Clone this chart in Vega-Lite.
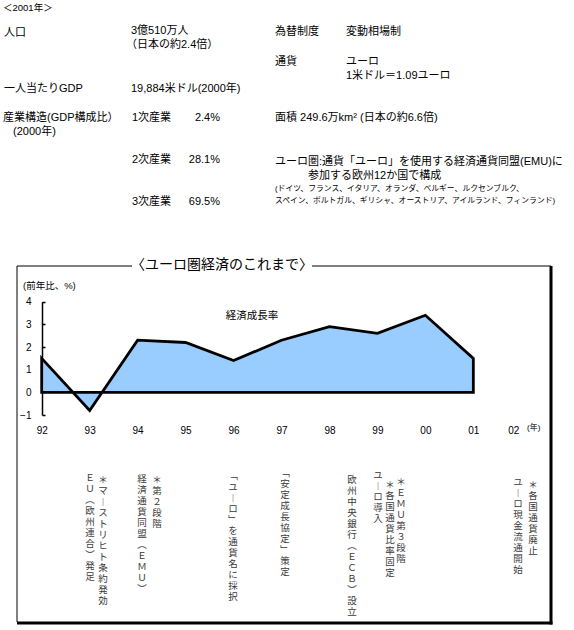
{
  "$schema": "https://vega.github.io/schema/vega-lite/v6.json",
  "width": 574,
  "height": 630,
  "padding": 0,
  "autosize": {"type": "none"},
  "background": "white",
  "config": {
    "view": {"stroke": null},
    "text": {"font": "Liberation Sans, Noto Sans CJK JP", "color": "black"},
    "axis": {"labelFont": "Liberation Sans, Noto Sans CJK JP"}
  },
  "resolve": {"scale": {"x": "independent", "y": "independent"}},
  "layer": [
    {
      "encoding": {
        "x": {"field": "x", "type": "quantitative", "scale": {"domain": [0, 574], "nice": false, "zero": false}, "axis": null},
        "y": {"field": "y", "type": "quantitative", "scale": {"domain": [0, 630], "nice": false, "zero": false, "reverse": true}, "axis": null}
      },
      "layer": [
        {
          "data": {"values": [
            {"x": 17, "y": 266, "x2": 17, "y2": 622},
            {"x": 17, "y": 266, "x2": 132, "y2": 266},
            {"x": 312, "y": 266, "x2": 551, "y2": 266}
          ]},
          "mark": {"type": "rule", "stroke": "black", "strokeWidth": 1},
          "encoding": {"x2": {"field": "x2"}, "y2": {"field": "y2"}}
        },
        {
          "data": {"values": [
            {"x": 551, "y": 266, "x2": 551, "y2": 624.5},
            {"x": 17, "y": 623, "x2": 552.5, "y2": 623}
          ]},
          "mark": {"type": "rule", "stroke": "black", "strokeWidth": 3},
          "encoding": {"x2": {"field": "x2"}, "y2": {"field": "y2"}}
        },
        {
          "data": {"values": [
            {"x": 4, "y": 33, "t": "人口"},
            {"x": 131, "y": 31, "t": "3億510万人"},
            {"x": 126, "y": 45, "t": "（日本の約2.4倍）"},
            {"x": 275, "y": 32, "t": "為替制度"},
            {"x": 346, "y": 32, "t": "変動相場制"},
            {"x": 275, "y": 62, "t": "通貨"},
            {"x": 346, "y": 62, "t": "ユーロ"},
            {"x": 346, "y": 76, "t": "1米ドル＝1.09ユーロ"},
            {"x": 4, "y": 89, "t": "一人当たりGDP"},
            {"x": 131, "y": 89, "t": "19,884米ドル(2000年)"},
            {"x": 3, "y": 118, "t": "産業構造(GDP構成比）"},
            {"x": 13, "y": 132, "t": "(2000年)"},
            {"x": 132, "y": 118, "t": "1次産業"},
            {"x": 132, "y": 160, "t": "2次産業"},
            {"x": 132, "y": 202, "t": "3次産業"},
            {"x": 275, "y": 118, "t": "面積 249.6万km² (日本の約6.6倍)"},
            {"x": 275, "y": 162, "t": "ユーロ圏:通貨「ユーロ」を使用する経済通貨同盟(EMU)に"},
            {"x": 308, "y": 176, "t": "参加する欧州12か国で構成"}
          ]},
          "mark": {"type": "text", "align": "left", "baseline": "middle", "fontSize": 11},
          "encoding": {"text": {"field": "t", "type": "nominal"}}
        },
        {
          "data": {"values": [
            {"x": 220, "y": 118, "t": "2.4%"},
            {"x": 220, "y": 160, "t": "28.1%"},
            {"x": 220, "y": 202, "t": "69.5%"}
          ]},
          "mark": {"type": "text", "align": "right", "baseline": "middle", "fontSize": 11},
          "encoding": {"text": {"field": "t", "type": "nominal"}}
        },
        {
          "data": {"values": [
            {"x": 275, "y": 189, "t": "(ドイツ、フランス、イタリア、オランダ、ベルギー、ルクセンブルク、"},
            {"x": 275, "y": 201, "t": "スペイン、ポルトガル、ギリシャ、オーストリア、アイルランド、フィンランド)"}
          ]},
          "mark": {"type": "text", "align": "left", "baseline": "middle", "fontSize": 7.8},
          "encoding": {"text": {"field": "t", "type": "nominal"}}
        },
        {
          "data": {"values": [
            {"x": 3, "y": 8, "t": "＜2001年＞"},
            {"x": 23, "y": 286, "t": "(前年比、%)"}
          ]},
          "mark": {"type": "text", "align": "left", "baseline": "middle", "fontSize": 9.5},
          "encoding": {"text": {"field": "t", "type": "nominal"}}
        },
        {
          "data": {"values": [
            {"x": 527, "y": 428, "t": "(年)"}
          ]},
          "mark": {"type": "text", "align": "left", "baseline": "middle", "fontSize": 8},
          "encoding": {"text": {"field": "t", "type": "nominal"}}
        },
        {
          "data": {"values": [
            {"x": 252, "y": 316, "t": "経済成長率"}
          ]},
          "mark": {"type": "text", "align": "center", "baseline": "middle", "fontSize": 10.5},
          "encoding": {"text": {"field": "t", "type": "nominal"}}
        },
        {
          "data": {"values": [
            {"x": 222, "y": 265, "t": "〈ユーロ圏経済のこれまで〉"}
          ]},
          "mark": {"type": "text", "align": "center", "baseline": "middle", "fontSize": 14},
          "encoding": {"text": {"field": "t", "type": "nominal"}}
        },
        {
          "data": {"values": [
            {"x": 90, "y": 473, "t": "ＥＵ︵欧州連合︶発足"},
            {"x": 103, "y": 475, "t": "＊マ︱ストリヒト条約発効"},
            {"x": 142, "y": 474, "t": "経済通貨同盟︵ＥＭＵ︶"},
            {"x": 157, "y": 475, "t": "＊第２段階"},
            {"x": 233, "y": 471, "t": "﹁ユ︱ロ﹂を通貨名に採択"},
            {"x": 285, "y": 468, "t": "﹁安定成長協定﹂策定"},
            {"x": 352, "y": 475, "t": "欧州中央銀行︵ＥＣＢ︶設立"},
            {"x": 378, "y": 470, "t": "ユ︱ロ導入"},
            {"x": 390, "y": 480, "t": "＊各国通貨比率固定"},
            {"x": 401, "y": 477, "t": "＊ＥＭＵ第３段階"},
            {"x": 518, "y": 477, "t": "ユ︱ロ現金流通開始"},
            {"x": 533, "y": 480, "t": "＊各国通貨廃止"}
          ]},
          "transform": [{"calculate": "split(datum.t, '')", "as": "chars"}],
          "mark": {"type": "text", "align": "center", "baseline": "top", "fontSize": 9.5, "lineHeight": 11, "color": "#3a3a3a", "font": "Liberation Serif, Noto Sans CJK JP"},
          "encoding": {"text": {"field": "chars", "type": "nominal"}}
        }
      ]
    },
    {
      "data": {"values": [
        {"year": 1992, "growth": 1.5},
        {"year": 1993, "growth": -0.8},
        {"year": 1994, "growth": 2.3},
        {"year": 1995, "growth": 2.2},
        {"year": 1996, "growth": 1.4},
        {"year": 1997, "growth": 2.3},
        {"year": 1998, "growth": 2.9},
        {"year": 1999, "growth": 2.6},
        {"year": 2000, "growth": 3.4},
        {"year": 2001, "growth": 1.5}
      ]},
      "mark": {"type": "area", "fill": "#99CCFF", "stroke": "black", "strokeWidth": 2.8, "strokeJoin": "miter", "fillOpacity": 1},
      "encoding": {
        "x": {
          "field": "year", "type": "quantitative",
          "scale": {"domain": [1992, 2002], "range": [41.7, 521.3], "nice": false, "zero": false},
          "axis": {
            "orient": "bottom", "offset": -205, "values": [1992, 1993, 1994, 1995, 1996, 1997, 1998, 1999, 2000, 2001, 2002],
            "labelExpr": "substring(toString(datum.value), 2)",
            "ticks": false, "tickSize": 0, "domain": false, "grid": false, "title": null,
            "labelPadding": 0, "labelFontSize": 10, "labelColor": "black", "labelOverlap": false, "labelFlush": false,
            "labelOffset": {"condition": {"test": "datum.value == 2002", "value": -8}, "value": 0}
          }
        },
        "y": {
          "field": "growth", "type": "quantitative",
          "scale": {"domain": [-1, 4], "range": [415, 301.7], "nice": false, "zero": false},
          "axis": {
            "orient": "left", "offset": -42, "values": [-1, 0, 1, 2, 3, 4],
            "grid": false, "title": null, "domainColor": "black", "domainWidth": 1.5,
            "tickColor": "black", "tickSize": -3, "tickWidth": 1.5, "labelPadding": 14,
            "labelFontSize": 10, "labelColor": "black", "labelFlush": false, "labelOverlap": false
          }
        }
      }
    }
  ]
}
